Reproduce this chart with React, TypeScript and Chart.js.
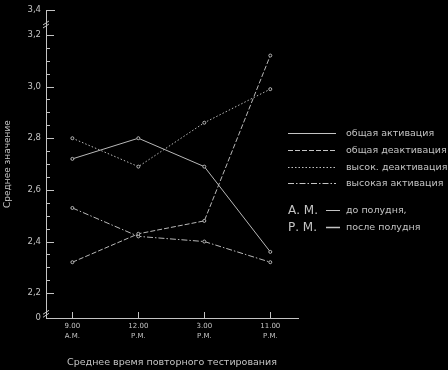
import React, { useEffect, useRef } from "react";
import { Chart, registerables } from "chart.js";

Chart.register(...registerables);

const timeLabels = ["9.00", "12.00", "3.00", "11.00"];
const periodLabels = ["А.М.", "Р.М.", "Р.М.", "Р.М."];

const generalActivation = [2.72, 2.8, 2.69, 2.36];
const generalDeactivation = [2.32, 2.43, 2.48, 3.12];
const highDeactivation = [2.8, 2.69, 2.86, 2.99];
const highActivation = [2.53, 2.42, 2.4, 2.32];

const seriesNames = [
  "общая активация",
  "общая деактивация",
  "высок. деактивация",
  "высокая активация",
];
const seriesDashes: number[][] = [[], [5, 2], [1.5, 2], [6, 2, 1.5, 2]];

const yTickValues = [2.2, 2.4, 2.6, 2.8, 3.0, 3.2];
const yTickLabels = ["2,2", "2,4", "2,6", "2,8", "3,0", "3,2"];
const yBottomLabel = "0";
const yTopLabel = "3,4";
const yMin = 2.104;
const yMax = 3.296;

const INK = "#c4c4c4";
const LINE = "#b8b8b8";
const FONT = "'DejaVu Sans', sans-serif";

const innerTicks = {
  id: "innerTicks",
  afterDraw(chart: any) {
    const { ctx, chartArea, scales } = chart;
    const y = scales.y;
    const x = scales.x;
    ctx.save();
    ctx.strokeStyle = INK;
    ctx.lineWidth = 1;
    for (let k = 0; k <= 20; k++) {
      const v = yTickValues[0] + k * 0.05;
      const major = k % 4 === 0;
      const py = Math.round(y.getPixelForValue(v)) + 0.5;
      ctx.beginPath();
      ctx.moveTo(chartArea.left, py);
      ctx.lineTo(chartArea.left + (major ? 8 : 4), py);
      ctx.stroke();
    }
    const pTop = Math.round(y.getPixelForValue(yMax)) + 0.5;
    ctx.beginPath();
    ctx.moveTo(chartArea.left, pTop);
    ctx.lineTo(chartArea.left + 9, pTop);
    ctx.stroke();
    const breaks = [3.25, 2.13];
    breaks.forEach((v) => {
      const py = y.getPixelForValue(v);
      ctx.beginPath();
      ctx.moveTo(chartArea.left - 3, py + 3);
      ctx.lineTo(chartArea.left + 3, py - 1);
      ctx.moveTo(chartArea.left - 3, py + 6);
      ctx.lineTo(chartArea.left + 3, py + 2);
      ctx.stroke();
    });
    timeLabels.forEach((_, i) => {
      const px = Math.round(x.getPixelForValue(i)) + 0.5;
      ctx.beginPath();
      ctx.moveTo(px, chartArea.bottom);
      ctx.lineTo(px, chartArea.bottom - 6);
      ctx.stroke();
    });
    ctx.restore();
  },
};

const allSeries = [generalActivation, generalDeactivation, highDeactivation, highActivation];

function App() {
  const canvasRef = useRef<HTMLCanvasElement | null>(null);

  useEffect(() => {
    const canvas = canvasRef.current;
    if (!canvas) return;
    const chart = new Chart(canvas, {
      type: "line",
      data: {
        datasets: allSeries.map((s, si) => ({
          label: seriesNames[si],
          data: s.map((v, i) => ({ x: i, y: v })),
          borderColor: LINE,
          backgroundColor: "#000",
          borderWidth: 1,
          borderDash: seriesDashes[si],
          pointRadius: 1.5,
          pointBorderWidth: 1,
          pointBorderColor: LINE,
          pointBackgroundColor: "#000",
          tension: 0,
        })),
      },
      plugins: [innerTicks],
      options: {
        responsive: false,
        animation: false,
        layout: { padding: { top: 0, right: 150, left: 0, bottom: 0 } },
        plugins: {
          legend: { display: false },
          tooltip: { enabled: false },
        },
        scales: {
          x: {
            type: "linear",
            min: -0.4,
            max: 3.42,
            afterBuildTicks: (scale: any) => {
              scale.ticks = timeLabels.map((_, i) => ({ value: i }));
            },
            afterFit: (scale: any) => {
              scale.height = 52;
            },
            grid: { display: false, drawTicks: false, tickLength: 0 },
            border: { display: true, color: INK, width: 1 },
            ticks: {
              color: INK,
              font: { family: FONT, size: 7, lineHeight: 1.4 },
              padding: 3,
              maxRotation: 0,
              autoSkip: false,
              callback: (_v: any, i: number) => [timeLabels[i], periodLabels[i]],
            },
            title: {
              display: true,
              text: "Среднее время повторного тестирования",
              color: INK,
              font: { family: FONT, size: 9.5 },
              padding: { top: 0, bottom: 2 },
            },
          },
          y: {
            type: "linear",
            min: yMin,
            max: yMax,
            afterBuildTicks: (scale: any) => {
              scale.ticks = [yMin, ...yTickValues, yMax].map((v) => ({ value: v }));
            },
            afterFit: (scale: any) => {
              scale.width = 46;
            },
            grid: { display: false, drawTicks: false, tickLength: 0 },
            border: { display: true, color: INK, width: 1 },
            ticks: {
              color: INK,
              font: { family: FONT, size: 8.5 },
              padding: 5,
              autoSkip: false,
              callback: (_v: any, i: number) =>
                i === 0 ? yBottomLabel : i === yTickValues.length + 1 ? yTopLabel : yTickLabels[i - 1],
            },
            title: {
              display: true,
              text: "Среднее значение",
              color: INK,
              font: { family: FONT, size: 9 },
              padding: { top: 2, bottom: 0 },
            },
          },
        },
      },
    });
    return () => chart.destroy();
  }, []);

  const legendRows = [133, 150, 167, 183];
  const textStyle: React.CSSProperties = {
    position: "absolute",
    color: INK,
    fontFamily: FONT,
    fontSize: 9.5,
    lineHeight: "12px",
    whiteSpace: "nowrap",
  };

  return (
    <div
      style={{
        position: "absolute",
        left: 0,
        top: 0,
        width: 448,
        height: 370,
        background: "#000",
        overflow: "hidden",
      }}
    >
      <canvas ref={canvasRef} width={448} height={370} style={{ display: "block" }} />
      <svg
        width={448}
        height={370}
        style={{ position: "absolute", left: 0, top: 0, pointerEvents: "none" }}
      >
        {legendRows.map((yy, i) => (
          <line
            key={i}
            x1={288}
            x2={336}
            y1={yy + 0.5}
            y2={yy + 0.5}
            stroke={INK}
            strokeWidth={1}
            strokeDasharray={seriesDashes[i].length ? seriesDashes[i].join(" ") : undefined}
          />
        ))}
        <line x1={326} x2={340} y1={210.5} y2={210.5} stroke={INK} strokeWidth={1} />
        <line x1={326} x2={340} y1={227.5} y2={227.5} stroke={INK} strokeWidth={1.5} />
      </svg>
      {legendRows.map((yy, i) => (
        <div key={i} style={{ ...textStyle, left: 346, top: yy - 6 }}>
          {seriesNames[i]}
        </div>
      ))}
      <div style={{ ...textStyle, left: 288, top: 203, fontSize: 12, lineHeight: "14px" }}>А. М.</div>
      <div style={{ ...textStyle, left: 346, top: 204 }}>до полудня,</div>
      <div style={{ ...textStyle, left: 288, top: 220, fontSize: 12, lineHeight: "14px" }}>Р. М.</div>
      <div style={{ ...textStyle, left: 346, top: 221 }}>после полудня</div>
    </div>
  );
}

export default App;
